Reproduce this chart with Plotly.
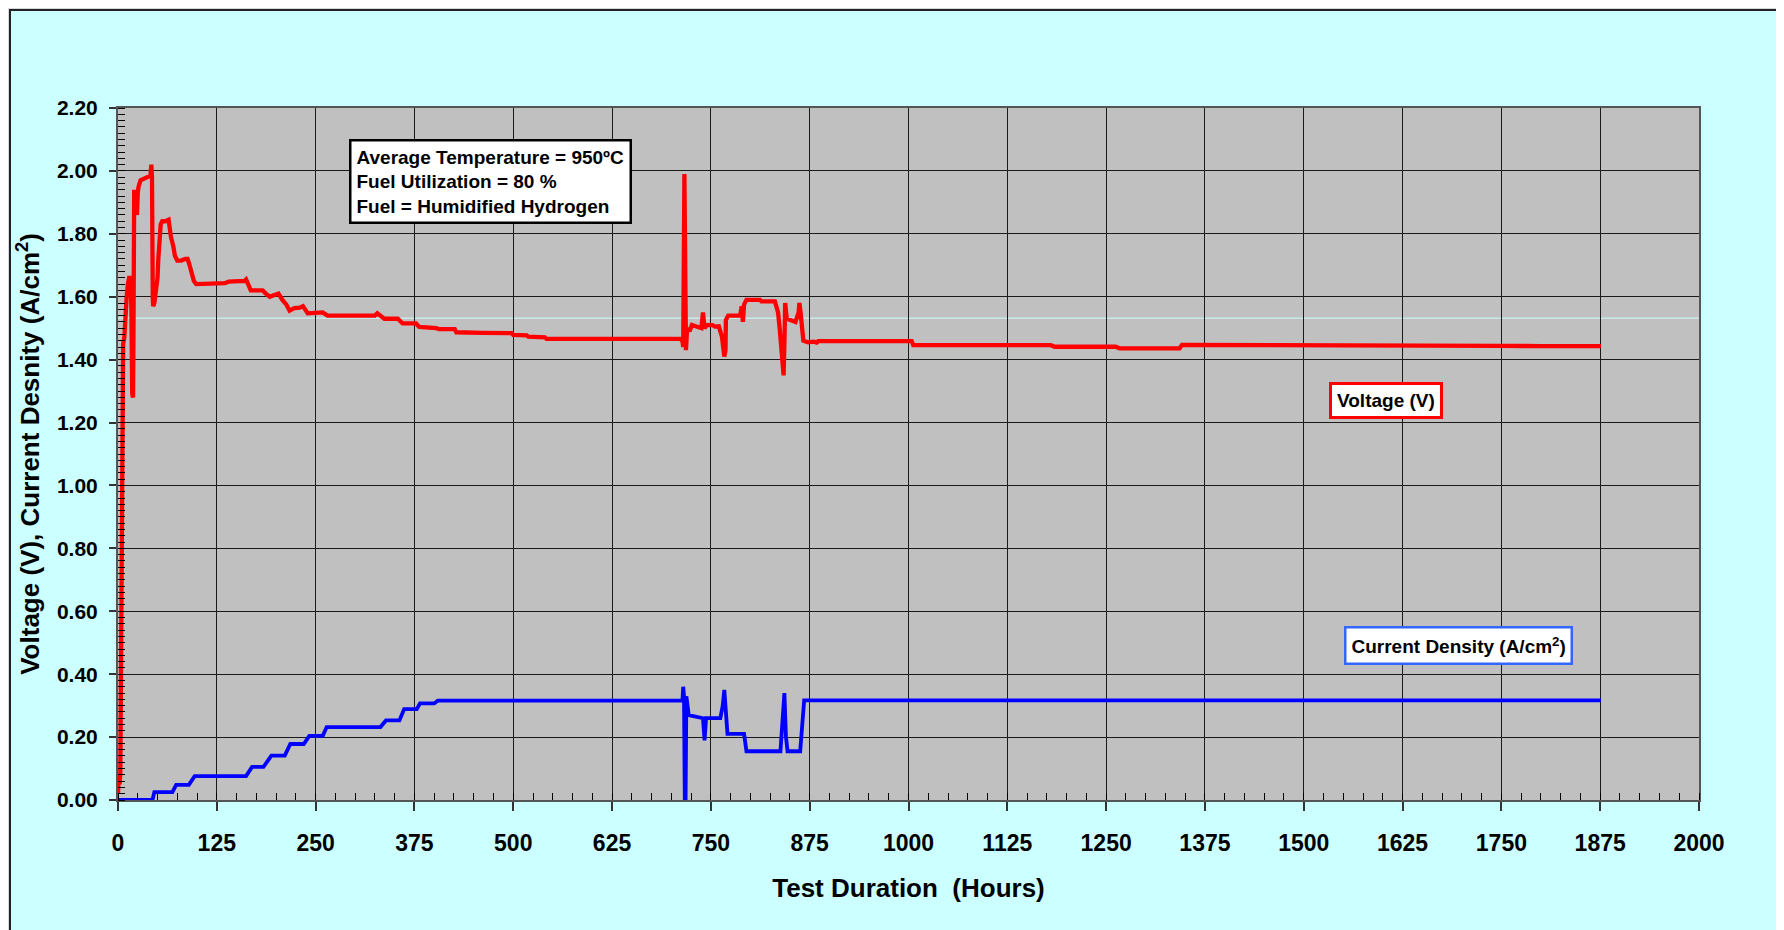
import plotly.graph_objects as go

# ---------------- data ----------------
volt_hours = [0, 1, 2, 3, 3.5, 4, 4.5, 5.5, 6.5, 8, 9.5, 11, 12.5, 14, 16, 17, 18, 19, 19.5, 20.5,
              22, 23, 24, 25, 26, 28.5, 32, 35, 39, 41, 42.2, 43, 44, 44.5, 46, 47.5, 49, 50, 51, 52.5,
              54, 56, 60, 64, 65.5, 67, 70, 72, 75, 80, 85, 88, 90, 93, 96, 99, 110, 125, 135, 140,
              150, 160, 162, 165, 168, 180, 183, 187, 192, 197, 203, 208, 213, 217, 223, 230, 234, 240,
              255, 259, 265, 300, 325, 328, 332, 337, 354, 360, 377, 381, 403, 406, 426, 428, 460, 498,
              500, 517, 519, 540, 542, 600, 650, 711, 714, 715, 716.5, 717.5, 718.5, 720, 723, 726, 733,
              738, 740, 742, 745, 752, 755, 760, 764, 767, 768.5, 769, 772, 787, 789, 790.5, 792, 795,
              812, 814, 831, 833, 835, 837, 839, 841, 842, 843, 844, 846, 850, 857, 861, 862, 863.5,
              865, 867, 873, 880, 884, 886, 950, 1004, 1006, 1050, 1100, 1180, 1185, 1240, 1262, 1267,
              1343, 1346, 1450, 1455, 1480, 1500, 1600, 1640, 1700, 1750, 1800, 1876]
volt_values = [0.02, 0.08, 0.05, 0.09, 0.30, 0.57, 0.60, 1.42, 1.45, 1.47, 1.58, 1.60, 1.64, 1.66, 1.66, 1.55, 1.29, 1.28, 1.45, 1.94,
               1.91, 1.86, 1.86, 1.93, 1.95, 1.97, 1.975, 1.98, 1.985, 1.985, 2.02, 1.98, 1.60, 1.57, 1.58, 1.61, 1.62, 1.66, 1.72, 1.76,
               1.83, 1.84, 1.84, 1.845, 1.80, 1.79, 1.76, 1.73, 1.715, 1.715, 1.72, 1.72, 1.705, 1.68, 1.65, 1.64, 1.64, 1.64, 1.643, 1.648,
               1.648, 1.65, 1.655, 1.635, 1.62, 1.62, 1.62, 1.61, 1.60, 1.605, 1.61, 1.59, 1.575, 1.556, 1.564, 1.565, 1.57, 1.547,
               1.55, 1.55, 1.54, 1.54, 1.54, 1.547, 1.54, 1.53, 1.53, 1.515, 1.515, 1.504, 1.50, 1.497, 1.497, 1.487, 1.485, 1.484,
               1.479, 1.477, 1.473, 1.471, 1.466, 1.466, 1.466, 1.466, 1.46, 1.44, 1.99, 1.45, 1.43, 1.50, 1.49, 1.51, 1.505,
               1.50, 1.55, 1.50, 1.51, 1.51, 1.505, 1.506, 1.473, 1.41, 1.43, 1.526, 1.54, 1.54, 1.569, 1.52, 1.575, 1.59,
               1.59, 1.585, 1.585, 1.56, 1.55, 1.50, 1.45, 1.40, 1.35, 1.45, 1.58, 1.53, 1.525, 1.52, 1.55, 1.58, 1.55,
               1.52, 1.46, 1.455, 1.457, 1.454, 1.459, 1.459, 1.459, 1.446, 1.446, 1.446, 1.446, 1.441, 1.441, 1.441, 1.436,
               1.436, 1.447, 1.447, 1.444, 1.444, 1.447, 1.447, 1.445, 1.445, 1.444, 1.443, 1.443]

curr_hours = [0, 43.6, 46, 68.8, 73.6, 89.6, 97, 162, 169.6, 184, 194, 211, 218, 235, 242, 259, 264, 332,
              339, 356, 362, 378, 382, 400, 404.6, 714, 715, 716, 717, 718, 719, 720, 722, 740, 742, 744,
              762, 765, 767, 769, 771, 792, 795, 838, 840, 843, 845, 847, 863, 865, 868, 1876]
curr_values = [0, 0, 0.025, 0.025, 0.048, 0.048, 0.076, 0.076, 0.105, 0.105, 0.141, 0.141, 0.178, 0.178, 0.204, 0.204, 0.232, 0.232,
               0.253, 0.253, 0.289, 0.289, 0.307, 0.307, 0.316, 0.316, 0.36, 0.33, 0.0, 0.0, 0.33, 0.30, 0.27, 0.26, 0.19, 0.26,
               0.26, 0.30, 0.35, 0.28, 0.21, 0.21, 0.155, 0.155, 0.23, 0.34, 0.20, 0.155, 0.155, 0.22, 0.317, 0.317]

x_ticks = list(range(0, 2001, 125))
y_ticks = [round(0.2 * i, 2) for i in range(12)]

info_lines = ["Average Temperature = 950ºC", "Fuel Utilization = 80 %", "Fuel = Humidified Hydrogen"]

# ---------------- figure ----------------
FONT = "Liberation Sans, Arial, sans-serif"
OFF = 8                      # page body margin offset
W, H = 1784 - OFF, 930 - OFF
L, R, T, B = 118 - OFF, 85, 108 - OFF, 130
pw, ph = W - L - R, H - T - B


def px_x(p):
    """screen pixel (reference) -> paper x"""
    return (p - OFF - L) / pw


def px_y(p):
    """screen pixel (reference) -> paper y"""
    return (H - B - (p - OFF)) / ph


fig = go.Figure()
fig.add_trace(go.Scatter(x=volt_hours, y=volt_values, mode="lines", name="Voltage (V)",
                         line=dict(color="#ff0000", width=4.3), showlegend=False))
fig.add_trace(go.Scatter(x=curr_hours, y=curr_values, mode="lines", name="Current Density",
                         line=dict(color="#0000ff", width=3.8), showlegend=False))

grey_out = "#d5d9df"
shapes = [
    dict(type="line", xref="x domain", yref="y", x0=0, x1=1, y0=1.532, y1=1.532,
         line=dict(color="#ccffff", width=1), layer="below"),
    dict(type="rect", xref="paper", yref="paper", x0=px_x(-5), x1=px_x(9), y0=px_y(H + 20), y1=px_y(-5),
         fillcolor=grey_out, line=dict(width=0), layer="above"),
    dict(type="rect", xref="paper", yref="paper", x0=px_x(-5), x1=px_x(1800), y0=px_y(9), y1=px_y(-5),
         fillcolor=grey_out, line=dict(width=0), layer="above"),
    dict(type="rect", xref="paper", yref="paper", x0=px_x(1777), x1=px_x(1800), y0=px_y(H + 20), y1=px_y(-5),
         fillcolor=grey_out, line=dict(width=0), layer="above"),
    dict(type="rect", xref="paper", yref="paper", x0=px_x(10), x1=px_x(1777), y0=px_y(950), y1=px_y(10),
         fillcolor="rgba(0,0,0,0)", line=dict(color="#222222", width=2), layer="above"),
]

annotations = [
    dict(xref="paper", yref="paper", x=px_x(349), y=px_y(139), xanchor="left", yanchor="top",
         text="<br>".join(info_lines), align="left", showarrow=False,
         font=dict(family=FONT, size=19, color="#000000", weight="bold"),
         bgcolor="#ffffff", bordercolor="#000000", borderwidth=2.5, borderpad=5),
    dict(xref="x", yref="y", x=1604, y=1.27, text="Voltage (V)", showarrow=False,
         font=dict(family=FONT, size=19, color="#000000", weight="bold"),
         bgcolor="#ffffff", bordercolor="#ff0000", borderwidth=3, borderpad=5),
    dict(xref="x", yref="y", x=1696, y=0.49, text="Current Density (A/cm<sup>2</sup>)", showarrow=False,
         font=dict(family=FONT, size=19, color="#000000", weight="bold"),
         bgcolor="#ffffff", bordercolor="#3366ff", borderwidth=2.5, borderpad=5),
]

fig.update_layout(
    width=W, height=H,
    margin=dict(l=L, r=R, t=T, b=B, pad=0),
    paper_bgcolor="#ccffff",
    plot_bgcolor="#c0c0c0",
    font=dict(family=FONT, color="#000000"),
    shapes=shapes,
    annotations=annotations,
    showlegend=False,
)

fig.update_xaxes(
    range=[0, 2000], tickvals=x_ticks, ticktext=[str(v) for v in x_ticks],
    showgrid=True, gridcolor="#1a1a1a", gridwidth=1.3,
    showline=True, linecolor="#555555", linewidth=2, mirror=True,
    ticks="outside", ticklen=9, tickwidth=1.5, tickcolor="#333333",
    tickfont=dict(family=FONT, size=23, color="#000000", weight="bold"),
    ticklabelstandoff=12,
    minor=dict(dtick=25, tick0=0, ticks="inside", ticklen=7, tickwidth=1.2, tickcolor="#000000", showgrid=False),
    title=dict(text="Test Duration\u00a0 (Hours)", standoff=24,
               font=dict(family=FONT, size=26, color="#000000", weight="bold")),
    zeroline=False,
)
fig.update_yaxes(
    range=[0, 2.2], tickvals=y_ticks, ticktext=[f"{v:.2f}" for v in y_ticks],
    showgrid=True, gridcolor="#1a1a1a", gridwidth=1.3,
    showline=True, linecolor="#555555", linewidth=2, mirror=True,
    ticks="outside", ticklen=7, tickwidth=1.5, tickcolor="#333333",
    tickfont=dict(family=FONT, size=21, color="#000000", weight="bold"),
    ticklabelstandoff=7,
    minor=dict(dtick=0.02, tick0=0, ticks="inside", ticklen=7, tickwidth=1.2, tickcolor="#000000", showgrid=False),
    title=dict(text="Voltage (V), Current Desnity (A/cm<sup>2</sup>)", standoff=10,
               font=dict(family=FONT, size=26, color="#000000", weight="bold")),
    zeroline=False,
)

fig.write_html("out.html")
